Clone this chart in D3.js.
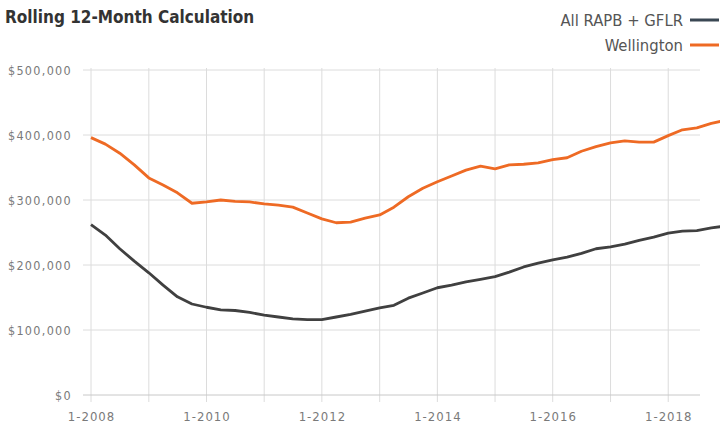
<!DOCTYPE html>
<html><head><meta charset="utf-8">
<script src="https://cdn.jsdelivr.net/npm/d3@7"></script>
<style>
body{margin:0;background:#fff;}
svg{display:block;font-family:"DejaVu Sans Condensed","Liberation Sans",sans-serif;}
</style></head>
<body><svg id="c" width="720" height="426"></svg>
<script>
const dates = ["2008-01","2008-04","2008-07","2008-10","2009-01","2009-04","2009-07","2009-10",
"2010-01","2010-04","2010-07","2010-10","2011-01","2011-04","2011-07","2011-10",
"2012-01","2012-04","2012-07","2012-10","2013-01","2013-04","2013-07","2013-10",
"2014-01","2014-04","2014-07","2014-10","2015-01","2015-04","2015-07","2015-10",
"2016-01","2016-04","2016-07","2016-10","2017-01","2017-04","2017-07","2017-10",
"2018-01","2018-04","2018-07","2018-10","2018-12"];
const wellington = [396,386,372,354,334,323,311,295,297,300,298,297,294,292,289,280,
271,265,266,272,277,289,305,318,328,337,346,352,348,354,355,357,
362,365,375,382,388,391,389,389,399,408,411,418,421].map(v=>v*1000);
const allRapb = [262,246,225,206,188,169,151,140,135,131,130,127,123,120,117,116,
116,120,124,129,134,138,149,157,165,169,174,178,182,189,197,203,
208,212,218,225,228,232,238,243,249,252,253,257,259].map(v=>v*1000);
const seriesNames = ["All RAPB + GFLR","Wellington"];
const yTicks = [0,100000,200000,300000,400000,500000];
const xTickLabels = ["1-2008","1-2010","1-2012","1-2014","1-2016","1-2018"];
const title = "Rolling 12-Month Calculation";

const FONT = "'DejaVu Sans Condensed','Liberation Sans',sans-serif";
const parse = d3.timeParse("%Y-%m");
const svg = d3.select("#c");
const x = d3.scaleTime().domain([parse("2008-01"), parse("2018-12")]).range([91, 721]);
const y = d3.scaleLinear().domain([0, 500000]).range([395, 70]);

// vertical gridlines each year
const years = d3.range(2008, 2019).map(yr => parse(yr + "-01"));
svg.append("g").selectAll("line").data(years).join("line")
  .attr("x1", d=>x(d)).attr("x2", d=>x(d)).attr("y1", 68).attr("y2", 402)
  .attr("stroke", "#dcdcdc").attr("stroke-width", 1);
// horizontal gridlines
svg.append("g").selectAll("line").data(yTicks).join("line")
  .attr("x1", 83).attr("x2", 700).attr("y1", d=>y(d)).attr("y2", d=>y(d))
  .attr("stroke", d=> d===0 ? "#c8c8c8" : "#dcdcdc").attr("stroke-width", 1);

// y axis labels
const yAxis = d3.axisLeft(y).tickValues(yTicks).tickSize(0).tickPadding(0)
  .tickFormat(d => "$" + d3.format(",")(d));
const gy = svg.append("g").attr("transform", "translate(72,0)").call(yAxis);
gy.select(".domain").remove();
gy.selectAll("text").attr("fill", "#7a7a7a").attr("font-size", 12.5)
  .attr("letter-spacing", 1.3).attr("font-family", FONT);

// x axis labels
const xTickDates = xTickLabels.map(s => { const p = s.split("-"); return parse(p[1] + "-" + p[0].padStart(2,"0")); });
const xAxis = d3.axisBottom(x).tickValues(xTickDates).tickSize(0).tickPadding(0)
  .tickFormat((d,i) => xTickLabels[i]);
const gx = svg.append("g").attr("transform", "translate(0,412)").call(xAxis);
gx.select(".domain").remove();
gx.selectAll("text").attr("fill", "#7a7a7a").attr("font-size", 13)
  .attr("letter-spacing", 1).attr("font-family", FONT);

// lines
const line = d3.line().x((d,i)=>x(parse(dates[i]))).y(d=>y(d)).curve(d3.curveLinear);
svg.append("path").datum(allRapb).attr("d", line).attr("fill","none")
  .attr("stroke", "#404040").attr("stroke-width", 2.8).attr("stroke-linejoin","round");
svg.append("path").datum(wellington).attr("d", line).attr("fill","none")
  .attr("stroke", "#ee6a24").attr("stroke-width", 2.8).attr("stroke-linejoin","round");

// title
svg.append("text").attr("x", 5).attr("y", 23).text(title)
  .attr("font-size", 17).attr("fill", "#333").attr("font-weight", "bold")
  .attr("font-family", FONT);

// legend
const legColors = ["#3a4753", "#ee6a24"];
const leg = svg.append("g");
seriesNames.forEach((n,i) => {
  const yy = 20 + i*25;
  leg.append("text").attr("x", 683).attr("y", yy + 6).attr("text-anchor","end")
    .attr("font-size", 16.5).attr("fill", "#555").attr("font-family", FONT).text(n);
  leg.append("line").attr("x1", 690).attr("x2", 719).attr("y1", yy).attr("y2", yy)
    .attr("stroke", legColors[i]).attr("stroke-width", 3);
});
</script></body></html>
